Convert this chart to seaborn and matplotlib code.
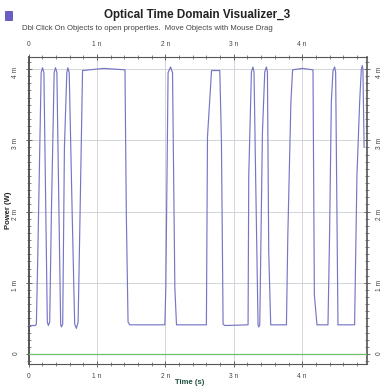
import matplotlib
matplotlib.use("Agg")
import matplotlib.pyplot as plt
from matplotlib.patches import Rectangle
from matplotlib.ticker import MultipleLocator, FixedLocator, FixedFormatter
import pandas as pd
import seaborn as sns

# Optical signal power trace (time in ns, power in mW)
time_ns = [
    0.00, 0.10, 0.115, 0.135, 0.185, 0.205, 0.225, 0.275, 0.29,
    0.31, 0.335, 0.375, 0.395, 0.415, 0.43, 0.47, 0.48,
    0.50, 0.525, 0.56, 0.575, 0.595, 0.64, 0.675, 0.70,
    0.725, 0.745, 0.79, 1.10, 1.41, 1.43, 1.455, 1.48,
    1.993, 2.007, 2.04, 2.076, 2.105, 2.139, 2.163,
    2.60, 2.616, 2.675, 2.796, 2.82, 2.844, 2.869,
    3.209, 3.219, 3.258, 3.28, 3.296, 3.321, 3.355, 3.365,
    3.38, 3.419, 3.453, 3.477, 3.492, 3.511, 3.54,
    3.77, 3.79, 3.835, 3.86, 4.00, 4.158, 4.178, 4.216,
    4.377, 4.40, 4.426, 4.45, 4.474, 4.489, 4.523,
    4.766, 4.80, 4.84, 4.864, 4.879, 4.888, 4.905,
]
power_mw = [
    0.40, 0.40, 0.42, 1.35, 3.95, 4.02, 3.95, 0.45, 0.40,
    0.45, 2.00, 3.95, 4.02, 3.95, 2.95, 0.42, 0.38,
    0.42, 2.90, 3.95, 4.02, 3.95, 1.90, 0.42, 0.36,
    0.45, 1.50, 3.98, 4.01, 3.99, 1.94, 0.45, 0.41,
    0.41, 0.93, 3.95, 4.03, 3.95, 0.93, 0.41,
    0.41, 3.05, 3.98, 3.98, 2.97, 0.42, 0.40,
    0.41, 2.50, 3.96, 4.03, 3.96, 2.41, 0.41, 0.38,
    0.41, 3.11, 3.96, 4.03, 3.96, 1.43, 0.41,
    0.41, 1.66, 3.54, 3.99, 4.01, 3.99, 0.83, 0.41,
    0.41, 1.66, 3.54, 3.97, 4.03, 3.96, 0.41,
    0.41, 2.50, 3.54, 3.99, 4.05, 3.99, 2.90,
]

# Noise power trace
noise_time_ns = [0.0, 4.94]
noise_power_mw = [0.0, 0.0]

x_ticks_ns = [0, 1, 2, 3, 4]
x_tick_labels = ["0", "1 n", "2 n", "3 n", "4 n"]
y_ticks_mw = [0, 1, 2, 3, 4]
y_tick_labels = ["0", "1 m", "2 m", "3 m", "4 m"]

sns.set_style("white")
plt.rcParams["font.family"] = ["Liberation Sans", "DejaVu Sans"]

W, H = 382, 387
fig = plt.figure(figsize=(W / 100, H / 100), dpi=100)
fig.patch.set_facecolor("white")

left, right, top, bottom = 28.5, 366.5, 57, 364
ax = fig.add_axes([left / W, 1 - bottom / H, (right - left) / W, (bottom - top) / H])
ax.set_facecolor("white")

signal = pd.DataFrame({"t": time_ns, "p": power_mw})
noise = pd.DataFrame({"t": noise_time_ns, "p": noise_power_mw})

sns.lineplot(data=noise, x="t", y="p", sort=False, estimator=None,
             color="#6cbf6c", linewidth=0.9, ax=ax, zorder=3)
sns.lineplot(data=signal, x="t", y="p", sort=False, estimator=None,
             color="#7676c6", linewidth=0.85, ax=ax, zorder=4)

ax.set_xlim(0, 4.94)
ax.set_ylim(-0.14, 4.17)

ax.xaxis.set_major_locator(FixedLocator(x_ticks_ns))
ax.xaxis.set_major_formatter(FixedFormatter(x_tick_labels))
ax.yaxis.set_major_locator(FixedLocator(y_ticks_mw))
ax.yaxis.set_major_formatter(FixedFormatter(y_tick_labels))
ax.xaxis.set_minor_locator(MultipleLocator(0.2))
ax.yaxis.set_minor_locator(MultipleLocator(0.1))

ax.grid(True, which="major", color="#cdcdd6", linewidth=0.6, zorder=0)

ax.tick_params(axis="both", which="both", direction="inout", colors="#555555",
               top=True, right=True, bottom=True, left=True,
               labeltop=True, labelright=True, labelbottom=True, labelleft=True,
               labelsize=4.8, labelcolor="#444444")
ax.tick_params(axis="both", which="major", length=5, width=0.6, pad=4)
ax.tick_params(axis="both", which="minor", length=3, width=0.5)
ax.tick_params(axis="y", which="major", labelrotation=90)

for side, sp in ax.spines.items():
    sp.set_visible(True)
    sp.set_color("#555555")
    sp.set_linewidth(0.8)
ax.spines["left"].set_linewidth(1.4)
ax.spines["right"].set_linewidth(1.2)

ax.set_xlabel("")
ax.set_ylabel("")

fig.text(9 / W, 1 - 210 / H, "Power (W)", rotation=90, ha="center", va="center",
         fontsize=5.5, fontweight="bold", color="#222222")
fig.text(190 / W, 1 - 382 / H, "Time (s)", ha="center", va="center",
         fontsize=5.5, fontweight="bold", color="#1f4f3f")

fig.text(197 / W, 1 - 15 / H, "Optical Time Domain Visualizer_3", ha="center",
         va="center", fontsize=8.4, fontweight="bold", color="#222222")
fig.text(22 / W, 1 - 28 / H,
         "Dbl Click On Objects to open properties.  Move Objects with Mouse Drag",
         ha="left", va="center", fontsize=5.6, color="#444444")

fig.patches.append(Rectangle((5 / W, 1 - 20 / H), 7 / W, 9 / H,
                             transform=fig.transFigure, facecolor="#6a5fc8",
                             edgecolor="#4a3f9a", linewidth=0.5))

fig.savefig("out.png", dpi=100)
